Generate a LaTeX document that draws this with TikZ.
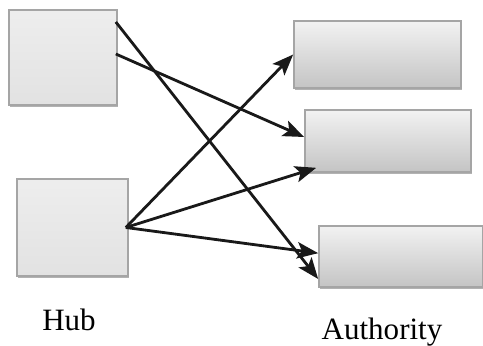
\documentclass[tikz,border=0pt]{standalone}
\usepackage{fontspec}
\setmainfont{Liberation Serif}
\usepackage{tikz}
\usetikzlibrary{arrows.meta,positioning,shadows}
\definecolor{boxline}{RGB}{165,165,165}
\definecolor{boxtop}{RGB}{242,242,242}
\definecolor{boxbot}{RGB}{196,196,196}
\definecolor{hubfill}{RGB}{226,226,226}

\begin{document}
\begin{tikzpicture}[
  x=0.03cm, y=-0.03cm,
  every node/.style={font=\fontsize{26.5}{30}\selectfont},
  hub/.style={draw=boxline, line width=1.4pt, top color=hubfill!60!white, bottom color=hubfill,
              drop shadow={shadow xshift=0.6pt, shadow yshift=-1.8pt, fill=black!30, opacity=1},
              inner sep=0pt},
  auth/.style={draw=boxline, line width=1.4pt, top color=boxtop, bottom color=boxbot,
               drop shadow={shadow xshift=0.6pt, shadow yshift=-1.8pt, fill=black!30, opacity=1},
               inner sep=0pt},
  arr/.style={-{Stealth[length=18pt, width=14pt, inset=4pt]}, line width=2.4pt, color=black!90}
]
  \useasboundingbox (0,0) rectangle (483,346);

  \node[hub, minimum width=3.24cm, minimum height=2.85cm] (h1) at (63,57.5) {};
  \node[hub, minimum width=3.33cm, minimum height=2.91cm] (h2) at (72.5,227.5) {};

  \node[auth, minimum width=5.01cm, minimum height=2.01cm] (a1) at (377.5,54.5) {};
  \node[auth, minimum width=4.98cm, minimum height=1.86cm] (a2) at (388,141) {};
  \node[auth, minimum width=4.92cm, minimum height=1.83cm] (a3) at (401,256.5) {};

  \draw[arr] ([xshift=-0.06cm, yshift=1.065cm]h1.east) -- ([yshift=-0.675cm]a3.west);
  \draw[arr] ([xshift=-0.06cm, yshift=0.105cm]h1.east) -- ([yshift=0.12cm]a2.west);
  \draw[arr] ([xshift=-0.09cm]h2.east) -- (a1.west);
  \draw[arr] ([xshift=-0.09cm]h2.east) -- ([xshift=0.36cm, yshift=0.15cm]a2.south west);
  \draw[arr] ([xshift=-0.09cm]h2.east) -- ([yshift=0.1cm]a3.west);

  \node (hublbl) at (69,320) {Hub};
  \node (authlbl) at (382,332) {Authority};
\end{tikzpicture}
\end{document}
